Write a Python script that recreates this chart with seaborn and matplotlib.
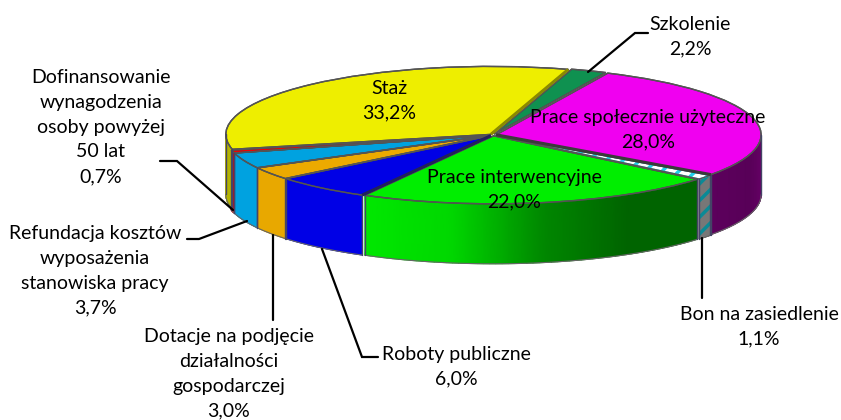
import matplotlib
matplotlib.use("Agg")
import matplotlib.pyplot as plt
import numpy as np
import seaborn as sns

# values in percent, clockwise from the first slice
categories = ["Szkolenie", "Prace społecznie użyteczne", "Bon na zasiedlenie",
              "Prace interwencyjne", "Roboty publiczne",
              "Dotacje na podjęcie działalności gospodarczej",
              "Refundacja kosztów wyposażenia stanowiska pracy",
              "Dofinansowanie wynagodzenia osoby powyżej 50 lat", "Staż"]
values = [2.2, 28.0, 1.1, 22.0, 6.0, 3.0, 3.7, 0.7, 33.2]
value_labels = ["2,2%", "28,0%", "1,1%", "22,0%", "6,0%", "3,0%", "3,7%", "0,7%", "33,2%"]
wrapped_names = ["Szkolenie", "Prace społecznie użyteczne", "Bon na zasiedlenie",
                 "Prace interwencyjne", "Roboty publiczne",
                 "Dotacje na podjęcie\ndziałalności\ngospodarczej",
                 "Refundacja kosztów\nwyposażenia\nstanowiska pracy",
                 "Dofinansowanie\nwynagodzenia\nosoby powyżej\n50 lat", "Staż"]
top_colors = ["#0f9150", "#f000f0", "#ffffff", "#00ee00", "#0000e6",
              "#ecaa00", "#00a2e0", "#f00000", "#eeee00"]
# wall shades, listed from the right end of the wall to the left end
side_colors = [["#0f9150", "#0f9150"], ["#6a006a", "#580058", "#5c005c"], ["#777777", "#777777"],
               ["#006400", "#006400", "#008800", "#00d800", "#00e800"],
               ["#0000e6", "#0000e6"], ["#e8a800", "#e8a800"], ["#00a2e0", "#00a2e0"],
               ["#e00000", "#e00000"], ["#b4b400", "#b4b400"]]

# label centre and leader line, in picture pixels
label_pos = [(690, 37), (648, 130), (759, 327), (514, 190), (456, 367),
             (229, 374), (95, 271), (101, 127), (389, 101)]
leaders = [[(588, 72), (635, 33), (648, 33)], None,
           [(702, 238), (702, 298)], None,
           [(322, 249), (362, 357), (378, 357)],
           [(273, 235), (273, 320)],
           [(247, 221), (199, 239), (187, 239)],
           [(233, 210), (177, 161), (160, 161)], None]
# darker seams on the top face: slice, which edge (0 start, 1 end), colour
seams = [(8, 1, "#8a8a00"), (4, 0, "#22225a"), (1, 1, "#3a3a3a")]

W, H = 841, 420
CX, CY, RX, RY, DEPTH = 493, 135, 265, 68, 60
START = 17.0
EXPLODE = 0.012

sns.set_theme(style="white")
plt.rcParams["font.family"] = ["Lato", "DejaVu Sans"]
plt.rcParams["hatch.linewidth"] = 2.5

fig = plt.figure(figsize=(W / 100, H / 100), dpi=100)
ax = fig.add_axes([0, 0, 1, 1])
depth = DEPTH / RY

# side walls first, only the part that faces the viewer
fractions = np.array(values) / sum(values)
edges = START + 360 * np.concatenate([[0], np.cumsum(fractions)])
offsets = []
for i in range(len(values)):
    a0, a1 = edges[i], edges[i + 1]
    mid = np.radians((a0 + a1) / 2)
    ox, oy = EXPLODE * np.sin(mid), EXPLODE * np.cos(mid)
    offsets.append((ox, oy))
    lo, hi = max(a0, 90), min(a1, 270)
    if hi <= lo:
        continue
    th = np.radians(np.linspace(lo, hi, 60))
    x = ox + np.sin(th)
    y = oy + np.cos(th)
    X = np.vstack([x, x])
    Y = np.vstack([y, y - depth])
    C = np.vstack([np.linspace(0, 1, 60)] * 2)
    cmap = sns.blend_palette(side_colors[i], as_cmap=True)
    ax.pcolormesh(X, Y, C, cmap=cmap, shading="gouraud", vmin=0, vmax=1)
    if categories[i] == "Bon na zasiedlenie":
        ax.fill(np.r_[x, x[::-1]], np.r_[y, y[::-1] - depth], facecolor="none",
                edgecolor="#0a8a96", hatch="//", linewidth=0)
    ax.plot(x, y - depth, color="#666666", lw=0.8)
    for xe, ye in [(x[0], y[0]), (x[-1], y[-1])]:
        ax.plot([xe, xe], [ye, ye - depth], color="#444466", lw=1.0)

# top faces
wedges, _ = ax.pie(values, colors=top_colors, startangle=90 - START, counterclock=False,
                   explode=[EXPLODE] * len(values), radius=1, center=(0, 0),
                   wedgeprops={"edgecolor": "#444444", "linewidth": 1.0})
bon = categories.index("Bon na zasiedlenie")
wedges[bon].set_hatch("//")
wedges[bon].set_edgecolor("#20d0e8")
ax.pie(values, colors=["none"] * len(values), startangle=90 - START, counterclock=False,
       explode=[EXPLODE] * len(values), radius=1, center=(0, 0),
       wedgeprops={"edgecolor": "#555555", "linewidth": 1.0, "facecolor": "none"})
for i, side, col in seams:
    ang = np.radians(edges[i + side])
    ox, oy = offsets[i]
    ax.plot([ox, ox + np.sin(ang)], [oy, oy + np.cos(ang)], color=col, lw=2.2,
            solid_capstyle="butt")

# squash the circle to the ellipse of the picture
ax.set_aspect("auto")
ax.set_xlim(-CX / RX, (W - CX) / RX)
ax.set_ylim((CY - H) / RY, CY / RY)

# labels and leaders in pixel coordinates
over = fig.add_axes([0, 0, 1, 1], facecolor="none")
over.set_xlim(0, W)
over.set_ylim(H, 0)
over.axis("off")
for i, name in enumerate(wrapped_names):
    if leaders[i]:
        px = [p[0] for p in leaders[i]]
        py = [p[1] for p in leaders[i]]
        over.plot(px, py, color="black", lw=1.6, solid_joinstyle="miter")
    over.text(label_pos[i][0], label_pos[i][1], name + "\n" + value_labels[i],
              ha="center", va="center", multialignment="center",
              fontsize=14, color="black", linespacing=1.55, zorder=5)

fig.savefig("out.png", dpi=100, facecolor="white")
